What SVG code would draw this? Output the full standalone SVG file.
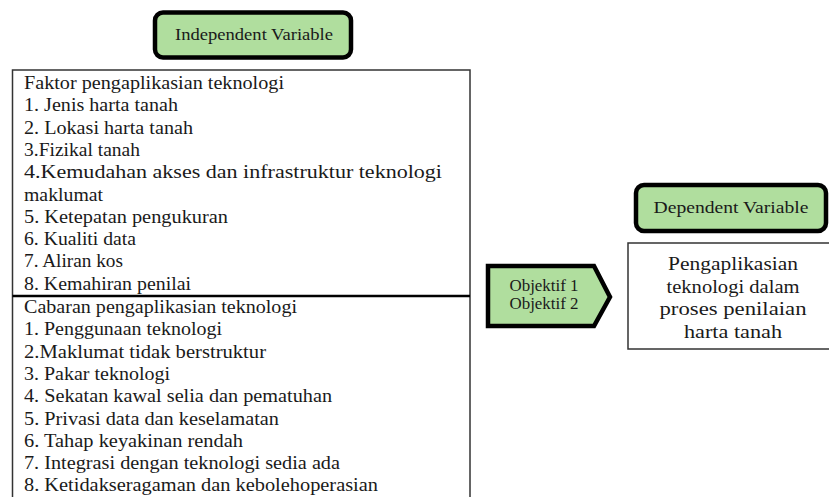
<svg xmlns="http://www.w3.org/2000/svg" width="829" height="497" viewBox="0 0 829 497">
<style>
.t{font-family:"Liberation Serif","DejaVu Serif",serif;font-size:18px;fill:#1a1a1a}
.c{text-anchor:middle}
.s{font-size:16.5px}
.lbl{fill:#b0de9e;stroke:#000;stroke-width:4.5}
.box{fill:#fff;stroke:#333;stroke-width:1.5}
</style>
<rect width="829" height="497" fill="#fff"/>
<g id="independent-variable">
<rect class="lbl" x="155" y="12.5" width="196" height="45" rx="8"/>
<text class="t c s" x="254" y="40" textLength="158" lengthAdjust="spacingAndGlyphs">Independent Variable</text>
</g>
<g id="factors-box">
<rect class="box" x="12.5" y="70" width="457.5" height="440"/>
<line x1="12.5" y1="296" x2="470" y2="296" stroke="#000" stroke-width="2.5"/>
<text class="t" x="24" y="89" textLength="260" lengthAdjust="spacingAndGlyphs">Faktor pengaplikasian teknologi</text>
<text class="t" x="24" y="111.3" textLength="154" lengthAdjust="spacingAndGlyphs">1. Jenis harta tanah</text>
<text class="t" x="24" y="133.6" textLength="169" lengthAdjust="spacingAndGlyphs">2. Lokasi harta tanah</text>
<text class="t" x="24" y="155.9" textLength="116" lengthAdjust="spacingAndGlyphs">3.Fizikal tanah</text>
<text class="t" x="24" y="178.2" textLength="418" lengthAdjust="spacingAndGlyphs">4.Kemudahan akses dan infrastruktur teknologi</text>
<text class="t" x="24" y="200.5" textLength="79" lengthAdjust="spacingAndGlyphs">maklumat</text>
<text class="t" x="24" y="222.8" textLength="204" lengthAdjust="spacingAndGlyphs">5. Ketepatan pengukuran</text>
<text class="t" x="24" y="245.1" textLength="112" lengthAdjust="spacingAndGlyphs">6. Kualiti data</text>
<text class="t" x="24" y="267.4" textLength="99" lengthAdjust="spacingAndGlyphs">7. Aliran kos</text>
<text class="t" x="24" y="289.7" textLength="167" lengthAdjust="spacingAndGlyphs">8. Kemahiran penilai</text>
<text class="t" x="24" y="313" textLength="273" lengthAdjust="spacingAndGlyphs">Cabaran pengaplikasian teknologi</text>
<text class="t" x="24" y="335.3" textLength="198" lengthAdjust="spacingAndGlyphs">1. Penggunaan teknologi</text>
<text class="t" x="24" y="357.6" textLength="242" lengthAdjust="spacingAndGlyphs">2.Maklumat tidak berstruktur</text>
<text class="t" x="24" y="379.9" textLength="146" lengthAdjust="spacingAndGlyphs">3. Pakar teknologi</text>
<text class="t" x="24" y="402.2" textLength="308" lengthAdjust="spacingAndGlyphs">4. Sekatan kawal selia dan pematuhan</text>
<text class="t" x="24" y="424.5" textLength="255" lengthAdjust="spacingAndGlyphs">5. Privasi data dan keselamatan</text>
<text class="t" x="24" y="446.8" textLength="219" lengthAdjust="spacingAndGlyphs">6. Tahap keyakinan rendah</text>
<text class="t" x="24" y="469.1" textLength="316" lengthAdjust="spacingAndGlyphs">7. Integrasi dengan teknologi sedia ada</text>
<text class="t" x="24" y="491.4" textLength="354" lengthAdjust="spacingAndGlyphs">8. Ketidakseragaman dan kebolehoperasian</text>
</g>
<g id="connectors">
<g id="objektif-arrow">
<polygon class="lbl" points="488,266 594,266 610,297 594,326 488,326"/>
<text class="t c" x="544" y="291" style="font-size:16px" textLength="69" lengthAdjust="spacingAndGlyphs">Objektif 1</text>
<text class="t c" x="544" y="309" style="font-size:16px" textLength="69" lengthAdjust="spacingAndGlyphs">Objektif 2</text>
</g>
</g>
<g id="dependent-variable">
<rect class="lbl" x="636" y="185" width="190" height="46" rx="8"/>
<text class="t c s" x="731" y="213" textLength="155" lengthAdjust="spacingAndGlyphs">Dependent Variable</text>
</g>
<g id="result-box">
<rect class="box" x="628" y="243" width="215" height="106"/>
<text class="t c" x="733" y="270" textLength="130" lengthAdjust="spacingAndGlyphs">Pengaplikasian</text>
<text class="t c" x="733" y="293" textLength="133" lengthAdjust="spacingAndGlyphs">teknologi dalam</text>
<text class="t c" x="733" y="315" textLength="147" lengthAdjust="spacingAndGlyphs">proses penilaian</text>
<text class="t c" x="733" y="338" textLength="98" lengthAdjust="spacingAndGlyphs">harta tanah</text>
</g>
</svg>
